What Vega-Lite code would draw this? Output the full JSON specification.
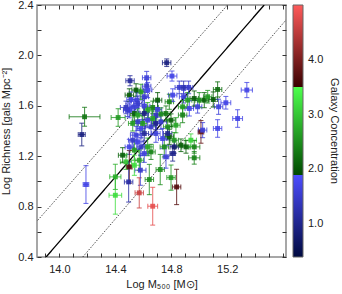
{
  "$schema": "https://vega.github.io/schema/vega-lite/v6.json",
  "width": 249,
  "height": 252,
  "autosize": "none",
  "padding": {"left": 37, "top": 5, "right": 56, "bottom": 37},
  "config": {
    "view": {"stroke": "#8a8a8a", "strokeWidth": 1.5},
    "font": "Liberation Sans",
    "axis": {
      "grid": false, "domain": false, "ticks": true, "tickColor": "#333", "tickSize": 4, "tickWidth": 1,
      "labelFont": "Liberation Sans", "labelFontSize": 11, "labelColor": "#222",
      "titleFont": "Liberation Sans", "titleFontSize": 11, "titleFontWeight": "normal", "titleColor": "#222",
      "labelPadding": 4, "labelOverlap": false, "labelFlush": false
    }
  },
  "datasets": {
    "lines": [
      {"line": "fit", "style": "solid", "x": 13.905, "y": 0.4},
      {"line": "fit", "style": "solid", "x": 15.464, "y": 2.4},
      {"line": "hi", "style": "dot", "x": 13.845, "y": 0.691},
      {"line": "hi", "style": "dot", "x": 15.202, "y": 2.4},
      {"line": "lo", "style": "dot", "x": 14.167, "y": 0.4},
      {"line": "lo", "style": "dot", "x": 15.624, "y": 2.286}
    ],
    "pts": [
      {"x": 14.16, "y": 1.372, "ex": 0.025, "ey": 0.09, "c": 0.9},
      {"x": 14.18, "y": 1.513, "ex": 0.11, "ey": 0.075, "c": 2.3},
      {"x": 14.19, "y": 0.975, "ex": 0.02, "ey": 0.15, "c": 1.7},
      {"x": 14.42, "y": 1.507, "ex": 0.05, "ey": 0.07, "c": 2.6},
      {"x": 14.40, "y": 0.89, "ex": 0.045, "ey": 0.15, "c": 3.2},
      {"x": 14.40, "y": 1.036, "ex": 0.04, "ey": 0.10, "c": 2.8},
      {"x": 14.505, "y": 1.799, "ex": 0.03, "ey": 0.04, "c": 1.1},
      {"x": 14.50, "y": 1.685, "ex": 0.03, "ey": 0.05, "c": 2.05},
      {"x": 14.767, "y": 1.942, "ex": 0.03, "ey": 0.03, "c": 0.9},
      {"x": 14.805, "y": 1.836, "ex": 0.035, "ey": 0.04, "c": 1.7},
      {"x": 14.624, "y": 1.823, "ex": 0.03, "ey": 0.05, "c": 1.6},
      {"x": 14.624, "y": 1.756, "ex": 0.03, "ey": 0.05, "c": 1.5},
      {"x": 14.548, "y": 1.725, "ex": 0.03, "ey": 0.05, "c": 2.05},
      {"x": 14.583, "y": 1.711, "ex": 0.03, "ey": 0.06, "c": 2.6},
      {"x": 14.607, "y": 1.672, "ex": 0.03, "ey": 0.06, "c": 1.5},
      {"x": 14.555, "y": 1.645, "ex": 0.04, "ey": 0.06, "c": 1.6},
      {"x": 14.476, "y": 1.587, "ex": 0.04, "ey": 0.05, "c": 1.4},
      {"x": 14.50, "y": 1.565, "ex": 0.04, "ey": 0.06, "c": 1.7},
      {"x": 14.536, "y": 1.539, "ex": 0.03, "ey": 0.06, "c": 2.1},
      {"x": 14.56, "y": 1.618, "ex": 0.03, "ey": 0.06, "c": 1.5},
      {"x": 14.607, "y": 1.597, "ex": 0.04, "ey": 0.06, "c": 1.6},
      {"x": 14.631, "y": 1.566, "ex": 0.03, "ey": 0.06, "c": 2.7},
      {"x": 14.667, "y": 1.587, "ex": 0.04, "ey": 0.05, "c": 2.4},
      {"x": 14.69, "y": 1.526, "ex": 0.03, "ey": 0.06, "c": 1.4},
      {"x": 14.702, "y": 1.571, "ex": 0.03, "ey": 0.06, "c": 1.6},
      {"x": 14.726, "y": 1.534, "ex": 0.03, "ey": 0.05, "c": 2.5},
      {"x": 14.762, "y": 1.539, "ex": 0.03, "ey": 0.06, "c": 2.3},
      {"x": 14.786, "y": 1.632, "ex": 0.03, "ey": 0.06, "c": 2.4},
      {"x": 14.857, "y": 1.746, "ex": 0.03, "ey": 0.05, "c": 1.5},
      {"x": 14.888, "y": 1.746, "ex": 0.03, "ey": 0.05, "c": 1.3},
      {"x": 14.924, "y": 1.746, "ex": 0.03, "ey": 0.05, "c": 1.5},
      {"x": 14.888, "y": 1.672, "ex": 0.03, "ey": 0.05, "c": 1.6},
      {"x": 14.81, "y": 1.685, "ex": 0.03, "ey": 0.05, "c": 1.7},
      {"x": 14.917, "y": 1.645, "ex": 0.03, "ey": 0.06, "c": 2.6},
      {"x": 14.964, "y": 1.658, "ex": 0.03, "ey": 0.06, "c": 2.05},
      {"x": 15.0, "y": 1.645, "ex": 0.03, "ey": 0.06, "c": 2.5},
      {"x": 15.036, "y": 1.645, "ex": 0.03, "ey": 0.06, "c": 2.1},
      {"x": 15.06, "y": 1.672, "ex": 0.03, "ey": 0.05, "c": 2.6},
      {"x": 15.10, "y": 1.650, "ex": 0.03, "ey": 0.06, "c": 2.05},
      {"x": 15.131, "y": 1.73, "ex": 0.03, "ey": 0.06, "c": 2.2},
      {"x": 14.988, "y": 1.592, "ex": 0.03, "ey": 0.05, "c": 1.6},
      {"x": 14.929, "y": 1.579, "ex": 0.03, "ey": 0.06, "c": 1.7},
      {"x": 14.881, "y": 1.526, "ex": 0.03, "ey": 0.06, "c": 2.4},
      {"x": 14.881, "y": 1.592, "ex": 0.03, "ey": 0.05, "c": 2.6},
      {"x": 15.138, "y": 1.592, "ex": 0.03, "ey": 0.06, "c": 1.6},
      {"x": 15.19, "y": 1.624, "ex": 0.035, "ey": 0.05, "c": 1.7},
      {"x": 15.34, "y": 1.725, "ex": 0.04, "ey": 0.06, "c": 1.7},
      {"x": 15.274, "y": 1.499, "ex": 0.035, "ey": 0.07, "c": 1.7},
      {"x": 15.131, "y": 1.42, "ex": 0.03, "ey": 0.07, "c": 1.7},
      {"x": 15.012, "y": 1.393, "ex": 0.02, "ey": 0.09, "c": 3.8},
      {"x": 15.024, "y": 1.407, "ex": 0.03, "ey": 0.06, "c": 1.6},
      {"x": 14.964, "y": 1.274, "ex": 0.04, "ey": 0.05, "c": 2.4},
      {"x": 14.94, "y": 1.327, "ex": 0.04, "ey": 0.05, "c": 3.1},
      {"x": 14.869, "y": 1.287, "ex": 0.03, "ey": 0.05, "c": 2.1},
      {"x": 14.821, "y": 1.327, "ex": 0.03, "ey": 0.06, "c": 2.6},
      {"x": 14.786, "y": 1.354, "ex": 0.03, "ey": 0.06, "c": 2.05},
      {"x": 14.75, "y": 1.274, "ex": 0.03, "ey": 0.08, "c": 2.5},
      {"x": 14.762, "y": 1.195, "ex": 0.02, "ey": 0.09, "c": 1.6},
      {"x": 14.81, "y": 1.221, "ex": 0.02, "ey": 0.06, "c": 1.0},
      {"x": 14.821, "y": 1.274, "ex": 0.03, "ey": 0.05, "c": 0.8},
      {"x": 14.833, "y": 1.446, "ex": 0.03, "ey": 0.06, "c": 2.7},
      {"x": 14.774, "y": 1.433, "ex": 0.03, "ey": 0.06, "c": 2.5},
      {"x": 14.726, "y": 1.473, "ex": 0.04, "ey": 0.06, "c": 1.5},
      {"x": 14.69, "y": 1.38, "ex": 0.03, "ey": 0.07, "c": 1.6},
      {"x": 14.655, "y": 1.433, "ex": 0.04, "ey": 0.06, "c": 1.5},
      {"x": 14.798, "y": 1.486, "ex": 0.03, "ey": 0.05, "c": 2.1},
      {"x": 14.738, "y": 1.34, "ex": 0.03, "ey": 0.08, "c": 1.7},
      {"x": 14.667, "y": 1.499, "ex": 0.03, "ey": 0.06, "c": 2.7},
      {"x": 14.631, "y": 1.486, "ex": 0.04, "ey": 0.06, "c": 1.6},
      {"x": 14.595, "y": 1.46, "ex": 0.03, "ey": 0.06, "c": 2.6},
      {"x": 14.56, "y": 1.473, "ex": 0.04, "ey": 0.07, "c": 1.5},
      {"x": 14.583, "y": 1.42, "ex": 0.03, "ey": 0.07, "c": 1.7},
      {"x": 14.607, "y": 1.38, "ex": 0.03, "ey": 0.06, "c": 1.1},
      {"x": 14.548, "y": 1.367, "ex": 0.04, "ey": 0.07, "c": 1.6},
      {"x": 14.524, "y": 1.327, "ex": 0.03, "ey": 0.06, "c": 1.5},
      {"x": 14.56, "y": 1.314, "ex": 0.04, "ey": 0.06, "c": 1.7},
      {"x": 14.583, "y": 1.274, "ex": 0.03, "ey": 0.07, "c": 1.5},
      {"x": 14.631, "y": 1.274, "ex": 0.04, "ey": 0.07, "c": 2.7},
      {"x": 14.655, "y": 1.234, "ex": 0.03, "ey": 0.06, "c": 2.4},
      {"x": 14.607, "y": 1.221, "ex": 0.03, "ey": 0.07, "c": 1.6},
      {"x": 14.536, "y": 1.248, "ex": 0.03, "ey": 0.08, "c": 2.6},
      {"x": 14.50, "y": 1.274, "ex": 0.03, "ey": 0.06, "c": 1.7},
      {"x": 14.571, "y": 1.168, "ex": 0.03, "ey": 0.08, "c": 2.7},
      {"x": 14.50, "y": 1.115, "ex": 0.02, "ey": 0.13, "c": 3.7},
      {"x": 14.452, "y": 1.208, "ex": 0.03, "ey": 0.06, "c": 2.1},
      {"x": 14.476, "y": 1.155, "ex": 0.04, "ey": 0.06, "c": 3.0},
      {"x": 14.536, "y": 1.128, "ex": 0.04, "ey": 0.08, "c": 3.2},
      {"x": 14.495, "y": 0.996, "ex": 0.03, "ey": 0.16, "c": 1.2},
      {"x": 14.579, "y": 1.089, "ex": 0.04, "ey": 0.12, "c": 1.5},
      {"x": 14.571, "y": 0.909, "ex": 0.03, "ey": 0.12, "c": 4.6},
      {"x": 14.667, "y": 0.803, "ex": 0.035, "ey": 0.15, "c": 4.8},
      {"x": 14.643, "y": 1.015, "ex": 0.03, "ey": 0.12, "c": 2.5},
      {"x": 14.721, "y": 1.094, "ex": 0.03, "ey": 0.12, "c": 2.5},
      {"x": 14.798, "y": 1.03, "ex": 0.03, "ey": 0.10, "c": 2.6},
      {"x": 14.838, "y": 0.956, "ex": 0.03, "ey": 0.14, "c": 3.7},
      {"x": 14.964, "y": 1.187, "ex": 0.04, "ey": 0.05, "c": 2.4},
      {"x": 14.905, "y": 1.274, "ex": 0.03, "ey": 0.05, "c": 2.1},
      {"x": 14.702, "y": 1.645, "ex": 0.03, "ey": 0.06, "c": 2.05},
      {"x": 14.631, "y": 1.725, "ex": 0.03, "ey": 0.06, "c": 1.7},
      {"x": 14.524, "y": 1.46, "ex": 0.03, "ey": 0.06, "c": 2.6},
      {"x": 14.56, "y": 1.526, "ex": 0.03, "ey": 0.05, "c": 2.7},
      {"x": 14.607, "y": 1.539, "ex": 0.03, "ey": 0.05, "c": 0.9},
      {"x": 14.688, "y": 1.46, "ex": 0.03, "ey": 0.05, "c": 1.0},
      {"x": 14.774, "y": 1.38, "ex": 0.03, "ey": 0.05, "c": 1.0},
      {"x": 14.488, "y": 1.565, "ex": 0.03, "ey": 0.05, "c": 1.5},
      {"x": 14.536, "y": 1.592, "ex": 0.03, "ey": 0.06, "c": 1.6},
      {"x": 14.512, "y": 1.65, "ex": 0.03, "ey": 0.06, "c": 1.7}
    ]
  },
  "layer": [
    {
      "data": {"name": "lines"},
      "mark": {"type": "line", "clip": true, "color": "#000"},
      "encoding": {
        "x": {"field": "x", "type": "quantitative", "scale": {"domain": [13.84, 15.62], "nice": false, "zero": false},
          "axis": {"orient": "top", "offset": -252, "title": null, "labels": false, "ticks": true, "values": [13.9, 14.0, 14.1, 14.2, 14.3, 14.4, 14.5, 14.6, 14.7, 14.8, 14.9, 15.0, 15.1, 15.2, 15.3, 15.4, 15.5, 15.6]}},
        "y": {"field": "y", "type": "quantitative", "scale": {"domain": [0.4, 2.4], "nice": false, "zero": false},
          "axis": {"orient": "right", "offset": -249, "title": null, "labels": false, "ticks": true, "values": [0.4, 0.6, 0.8, 1.0, 1.2, 1.4, 1.6, 1.8, 2.0, 2.2, 2.4]}},
        "detail": {"field": "line"},
        "strokeDash": {"field": "style", "type": "nominal", "scale": {"domain": ["solid", "dot"], "range": [[1, 0], [1.5, 1.5]]}, "legend": null},
        "strokeWidth": {"field": "style", "type": "nominal", "scale": {"domain": ["solid", "dot"], "range": [1.3, 0.7]}, "legend": null}
      }
    },
    {
      "data": {"name": "pts"},
      "mark": {"type": "point", "opacity": 0},
      "encoding": {
        "x": {"field": "x", "type": "quantitative", "scale": {"domain": [13.84, 15.62], "nice": false, "zero": false},
          "axis": {"orient": "bottom", "offset": -252, "title": null, "labels": false, "ticks": true, "values": [13.9, 14.0, 14.1, 14.2, 14.3, 14.4, 14.5, 14.6, 14.7, 14.8, 14.9, 15.0, 15.1, 15.2, 15.3, 15.4, 15.5, 15.6]}},
        "y": {"field": "y", "type": "quantitative", "scale": {"domain": [0.4, 2.4], "nice": false, "zero": false},
          "axis": {"orient": "left", "offset": -249, "title": null, "labels": false, "ticks": true, "values": [0.4, 0.6, 0.8, 1.0, 1.2, 1.4, 1.6, 1.8, 2.0, 2.2, 2.4]}}
      }
    },
    {
      "data": {"name": "pts"},
      "mark": {"type": "errorbar", "ticks": {"size": 5}, "thickness": 1.1, "opacity": 0.75},
      "encoding": {
        "x": {"field": "x", "type": "quantitative", "axis": null, "scale": {"domain": [13.84, 15.62], "nice": false, "zero": false}},
        "xError": {"field": "ex"},
        "y": {"field": "y", "type": "quantitative", "axis": null, "scale": {"domain": [0.4, 2.4], "nice": false, "zero": false}},
        "color": {"field": "c", "type": "quantitative", "legend": null,
          "scale": {"type": "linear", "domain": [0.4, 1.9, 1.9001, 3.5, 3.5001, 5.0], "range": ["#000a40", "#4d4dff", "#004a00", "#4dff4d", "#3a0000", "#ff5a5a"], "interpolate": "rgb", "nice": false, "zero": false}}
      }
    },
    {
      "data": {"name": "pts"},
      "mark": {"type": "errorbar", "ticks": {"size": 5}, "thickness": 1.1, "opacity": 0.75},
      "encoding": {
        "y": {"field": "y", "type": "quantitative", "axis": null, "scale": {"domain": [0.4, 2.4], "nice": false, "zero": false}},
        "yError": {"field": "ey"},
        "x": {"field": "x", "type": "quantitative", "axis": null, "scale": {"domain": [13.84, 15.62], "nice": false, "zero": false}},
        "color": {"field": "c", "type": "quantitative", "legend": null,
          "scale": {"type": "linear", "domain": [0.4, 1.9, 1.9001, 3.5, 3.5001, 5.0], "range": ["#000a40", "#4d4dff", "#004a00", "#4dff4d", "#3a0000", "#ff5a5a"], "interpolate": "rgb", "nice": false, "zero": false}}
      }
    },
    {
      "data": {"name": "pts"},
      "mark": {"type": "point", "shape": "square", "filled": true, "size": 24, "opacity": 0.9},
      "encoding": {
        "x": {"field": "x", "type": "quantitative", "title": "Log M₅₀₀ [M⊙]", "scale": {"domain": [13.84, 15.62], "nice": false, "zero": false},
          "axis": {"orient": "bottom", "ticks": false, "labelPadding": 6, "values": [14.0, 14.4, 14.8, 15.2], "format": ".1f", "titlePadding": 4}},
        "y": {"field": "y", "type": "quantitative", "title": "Log Richness [gals Mpc⁻²]", "scale": {"domain": [0.4, 2.4], "nice": false, "zero": false},
          "axis": {"orient": "left", "ticks": false, "labelPadding": 4, "values": [0.4, 0.8, 1.2, 1.6, 2.0, 2.4], "format": ".1f", "titlePadding": 6}},
        "color": {"field": "c", "type": "quantitative",
          "scale": {"type": "linear", "domain": [0.4, 1.9, 1.9001, 3.5, 3.5001, 5.0], "range": ["#000a40", "#4d4dff", "#004a00", "#4dff4d", "#3a0000", "#ff5a5a"], "interpolate": "rgb", "nice": false, "zero": false},
          "legend": {"type": "gradient", "orient": "right", "offset": 6, "direction": "vertical", "gradientLength": 252, "gradientThickness": 10,
            "values": [1, 2, 3, 4], "format": ".1f", "labelFont": "Liberation Sans", "labelFontSize": 11, "labelColor": "#222", "labelOffset": 5,
            "title": "Galaxy Concentration", "titleOrient": "right", "titleAngle": 90, "titleFont": "Liberation Sans", "titleFontSize": 11, "titleFontWeight": "normal", "titleColor": "#222", "titleAnchor": "middle", "titlePadding": 6,
            "gradientStrokeColor": "#666", "gradientStrokeWidth": 1, "gradientOpacity": 1, "padding": 0,
            "encoding": {"gradient": {"fill": {"value": {"gradient": "linear", "x1": 0, "y1": 1, "x2": 0, "y2": 0,
              "stops": [{"offset": 0, "color": "#000a40"}, {"offset": 0.3261, "color": "#4d4dff"}, {"offset": 0.3261, "color": "#004a00"}, {"offset": 0.6739, "color": "#4dff4d"}, {"offset": 0.6739, "color": "#3a0000"}, {"offset": 1, "color": "#ff5a5a"}]}}}}}}
      }
    }
  ],
  "resolve": {"scale": {"x": "independent", "y": "independent"}, "axis": {"x": "independent", "y": "independent"}, "legend": {"color": "independent"}}
}
